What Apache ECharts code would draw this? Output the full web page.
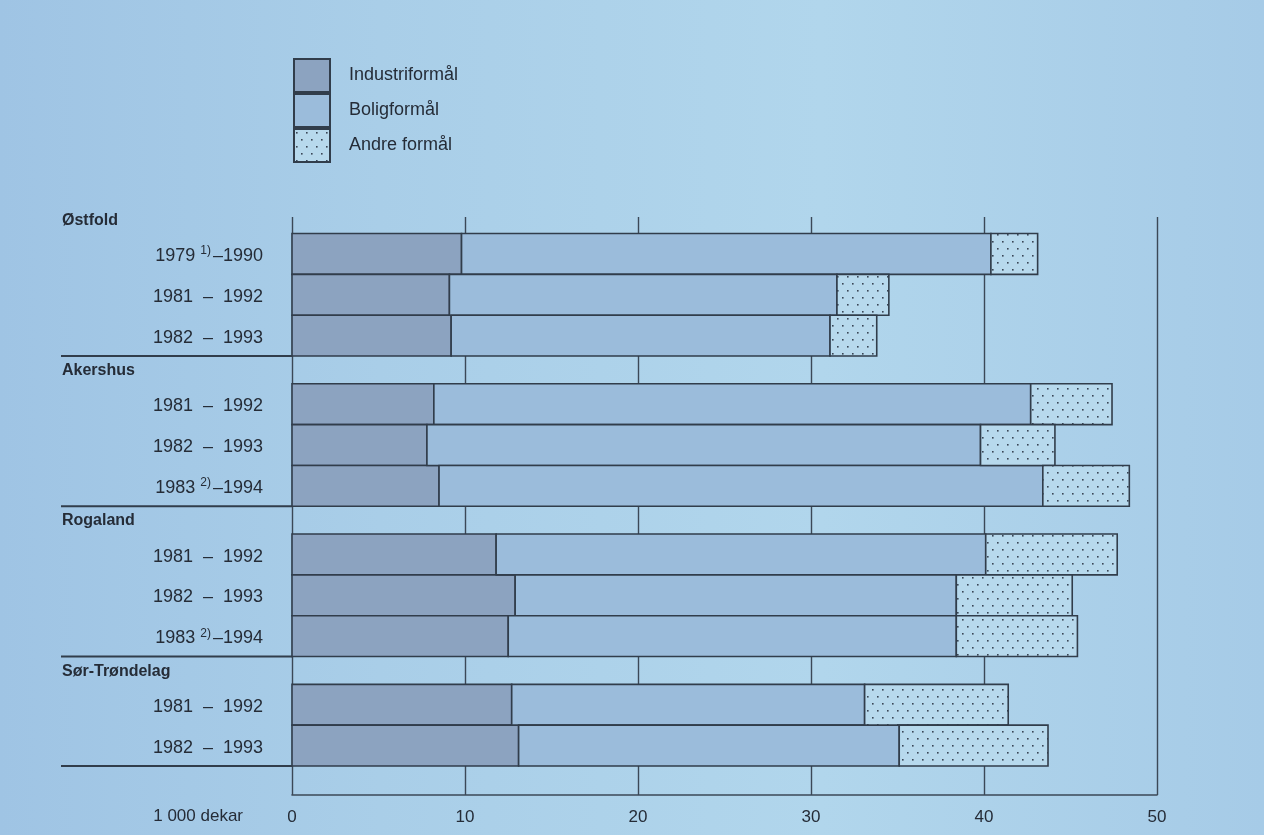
<!DOCTYPE html>
<html>
<head>
<meta charset="utf-8">
<title>Utbygd areal etter formål</title>
<script src="https://cdn.jsdelivr.net/npm/echarts@6/dist/echarts.min.js"></script>
<style>
  html, body { margin: 0; padding: 0; background: #a9cee8; }
  #chart { width: 1264px; height: 835px; }
</style>
</head>
<body>
<div id="chart"></div>
<script>
// Fylker og perioder (rad for rad, ovenfra og ned)
const groups = ['Østfold', 'Akershus', 'Rogaland', 'Sør-Trøndelag'];
// [fra-år, fotnote, til-år]
const periods = [
  [['1979', '1)', '1990'], ['1981', '', '1992'], ['1982', '', '1993']],
  [['1981', '', '1992'], ['1982', '', '1993'], ['1983', '2)', '1994']],
  [['1981', '', '1992'], ['1982', '', '1993'], ['1983', '2)', '1994']],
  [['1981', '', '1992'], ['1982', '', '1993']]
];

// Areal, 1 000 dekar, i samme radrekkefølge som over
const industri = [9.8, 9.1, 9.2, 8.2, 7.8, 8.5, 11.8, 12.9, 12.5, 12.7, 13.1];
const bolig    = [30.6, 22.4, 21.9, 34.5, 32.0, 34.9, 28.3, 25.5, 25.9, 20.4, 22.0];
const andre    = [2.7, 3.0, 2.7, 4.7, 4.3, 5.0, 7.6, 6.7, 7.0, 8.3, 8.6];

const seriesNames = ['Industriformål', 'Boligformål', 'Andre formål'];
const xTicks = [0, 10, 20, 30, 40, 50];
const unitLabel = '1 000 dekar';

// ---- layout of rows along the (inverted) y axis, in bar-height units ----
const TOP_PAD = 0.405, GROUP_GAP = 0.68, BOTTOM_PAD = 0.71;
const rowTops = [], rowLabels = [], headerPos = [], groupEnds = [];
let pos = TOP_PAD;
groups.forEach((g, gi) => {
  if (gi > 0) pos += GROUP_GAP;
  headerPos.push(pos - 0.32);
  periods[gi].forEach(p => { rowTops.push(pos); rowLabels.push(p); pos += 1; });
  groupEnds.push(pos);
});
const yMax = pos + BOTTOM_PAD;

const FONT = '"Liberation Sans", Arial, Helvetica, sans-serif';
const INK = '#252c37';
const EDGE = '#313d4b';
const GRID = '#3b4857';

// sparse dot screen for "Andre formål"
function dotPattern() {
  const c = document.createElement('canvas');
  c.width = 10; c.height = 14;
  const ctx = c.getContext('2d');
  ctx.fillStyle = '#b7d9ed';
  ctx.fillRect(0, 0, 10, 14);
  ctx.fillStyle = '#3a4757';
  ctx.fillRect(2, 3, 1.6, 1.6);
  ctx.fillRect(7, 10, 1.6, 1.6);
  return { image: c, repeat: 'repeat' };
}

const fills = ['#8ca3c0', '#9bbcdb', dotPattern()];
const segValues = [industri, bolig, andre];

// stacked segments: [start, end, rowTop]
function segmentData(k) {
  return rowTops.map((top, i) => {
    let start = 0;
    for (let j = 0; j < k; j++) start += segValues[j][i];
    return [start, start + segValues[k][i], top];
  });
}

function renderSegment(k) {
  return function (params, api) {
    const p0 = api.coord([api.value(0), api.value(2)]);
    const p1 = api.coord([api.value(1), api.value(2) + 1]);
    return {
      type: 'rect',
      shape: { x: p0[0], y: p0[1], width: p1[0] - p0[0], height: p1[1] - p0[1] },
      style: { fill: fills[k], stroke: EDGE, lineWidth: 1.6 }
    };
  };
}

const segmentSeries = seriesNames.map((name, k) => ({
  type: 'custom',
  name: name,
  coordinateSystem: 'cartesian2d',
  itemStyle: { color: fills[k], borderColor: EDGE, borderWidth: 1.6 },
  encode: { x: [0, 1], y: 2 },
  data: segmentData(k),
  renderItem: renderSegment(k),
  z: 3
}));

// row/group labels and the separator rules on the left
const labelItems = [];
groups.forEach((g, gi) => labelItems.push(['header', headerPos[gi], gi]));
rowLabels.forEach((p, i) => labelItems.push(['row', rowTops[i] + 0.55, i]));
groupEnds.forEach((e, gi) => labelItems.push(['rule', e, gi]));

const labelSeries = {
  type: 'custom',
  name: 'labels',
  coordinateSystem: 'cartesian2d',
  silent: true,
  clip: false,
  encode: { y: 1 },
  data: labelItems,
  z: 4,
  renderItem: function (params, api) {
    const item = labelItems[params.dataIndex];
    const kind = item[0];
    const p = api.coord([0, item[1]]);
    if (kind === 'header') {
      return {
        type: 'text',
        x: 62, y: p[1],
        style: {
          text: groups[item[2]], fill: INK, align: 'left', verticalAlign: 'middle',
          font: 'bold 16px ' + FONT
        }
      };
    }
    if (kind === 'row') {
      const r = rowLabels[item[2]];
      const txt = r[1]
        ? '{t|' + r[0] + '}{s|' + r[1] + '}{t|–' + r[2] + '}'
        : '{t|' + r[0] + '  –  ' + r[2] + '}';
      return {
        type: 'text',
        x: p[0] - 29, y: p[1],
        style: {
          text: txt, fill: INK, align: 'right', verticalAlign: 'middle',
          font: '18px ' + FONT,
          rich: {
            t: { fontSize: 18, fontFamily: FONT, fill: INK, lineHeight: 22 },
            s: { fontSize: 12, fontFamily: FONT, fill: INK, verticalAlign: 'top',
                 lineHeight: 22, padding: [0, 2, 0, 5] }
          }
        }
      };
    }
    return {
      type: 'line',
      shape: { x1: 61, y1: p[1], x2: p[0], y2: p[1] },
      style: { stroke: EDGE, lineWidth: 2 }
    };
  }
};

const chart = echarts.init(document.getElementById('chart'), null, { renderer: 'canvas' });
chart.setOption({
  animation: false,
  backgroundColor: {
    type: 'linear', x: 0, y: 0, x2: 1, y2: 0,
    colorStops: [
      { offset: 0, color: '#9fc4e4' },
      { offset: 0.3, color: '#a9cee8' },
      { offset: 0.65, color: '#b1d6ec' },
      { offset: 1, color: '#a6cbe7' }
    ]
  },
  textStyle: { fontFamily: FONT, color: INK },
  grid: { left: 292, right: 107, top: 217, bottom: 40, containLabel: false },
  legend: {
    orient: 'vertical',
    left: 293, top: 58,
    padding: 0,
    itemWidth: 36, itemHeight: 33, itemGap: 0,
    icon: 'rect',
    selectedMode: false,
    data: seriesNames,
    itemStyle: { borderColor: EDGE, borderWidth: 2 },
    textStyle: { fontSize: 18, color: INK, fontFamily: FONT, padding: [0, 0, 0, 14] }
  },
  xAxis: {
    type: 'value',
    min: xTicks[0], max: xTicks[xTicks.length - 1], interval: 10,
    position: 'bottom',
    name: unitLabel,
    nameLocation: 'start',
    nameGap: 49,
    nameTextStyle: { fontSize: 17, color: INK, fontFamily: FONT, align: 'right',
                     verticalAlign: 'top', padding: [13, 0, 0, 0] },
    axisLine: { show: true, onZero: false, lineStyle: { color: GRID, width: 1.6 } },
    axisTick: { show: false },
    axisLabel: { fontSize: 17, color: INK, margin: 14, fontFamily: FONT },
    splitLine: { show: true, showMinLine: true, showMaxLine: true,
                 lineStyle: { color: GRID, width: 1.4 } }
  },
  yAxis: {
    type: 'value', inverse: true, min: 0, max: yMax,
    show: false,
    splitLine: { show: false }
  },
  series: segmentSeries.concat([labelSeries])
});
</script>
</body>
</html>
